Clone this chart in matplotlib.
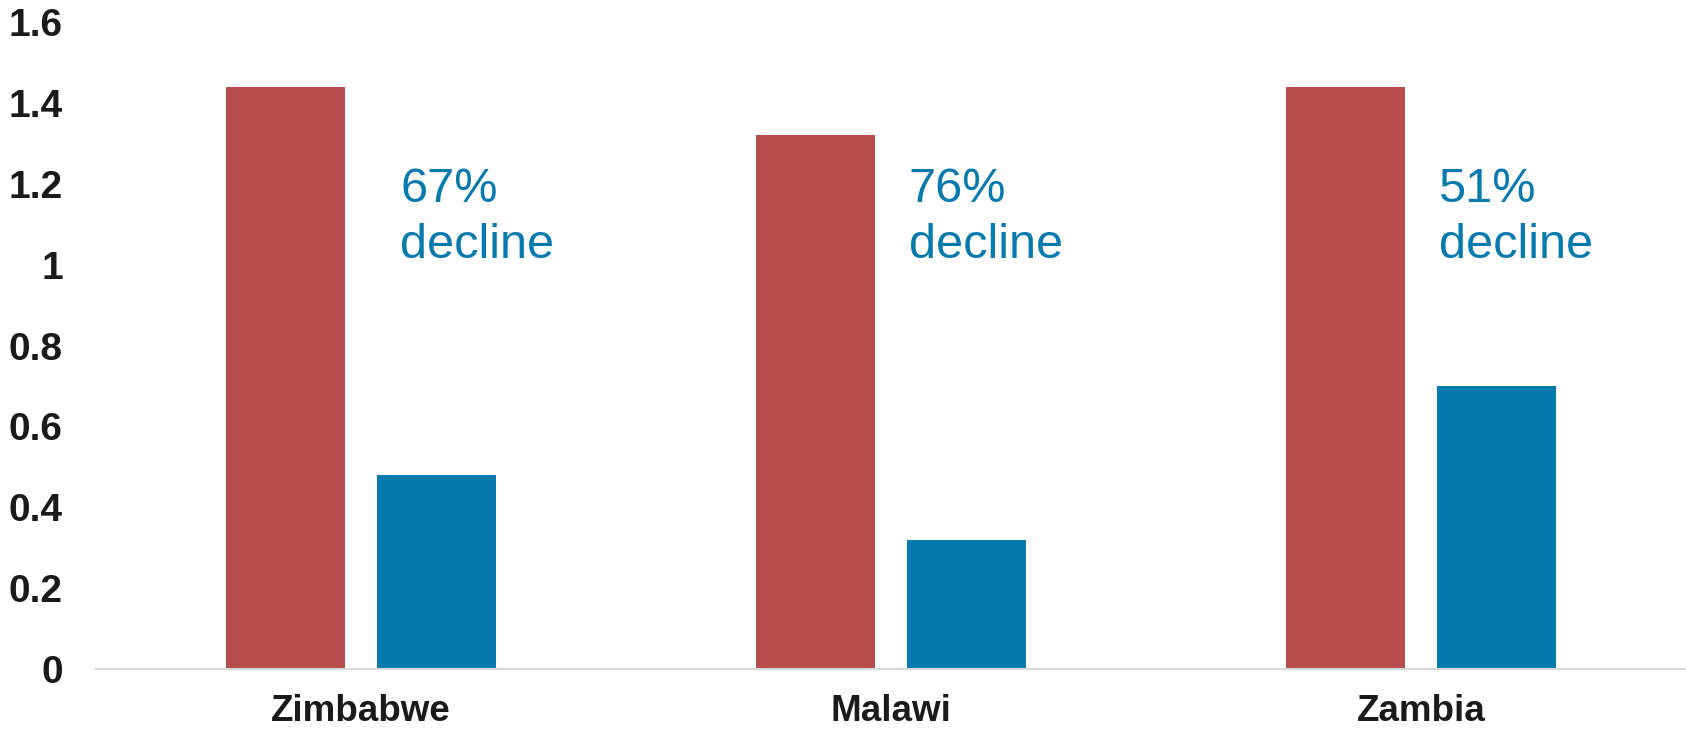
import numpy as np
import matplotlib
matplotlib.use("Agg")
import matplotlib.pyplot as plt

plt.rcParams['font.family'] = ['Liberation Sans', 'DejaVu Sans']

countries = ['Zimbabwe', 'Malawi', 'Zambia']
before = [1.44, 1.32, 1.44]
after = [0.48, 0.32, 0.70]
decline_labels = ['67%\ndecline', '76%\ndecline', '51%\ndecline']

red = '#B54D4D'
blue = '#077AAD'

fig = plt.figure(figsize=(16.86, 7.31), dpi=100)
ax = fig.add_axes([0.057, 0.0848, 0.943, 0.885])

x = np.arange(len(countries))
w = 0.225
ax.bar(x - 0.143, before, w, color=red)
ax.bar(x + 0.143, after, w, color=blue)

# annotation offsets relative to category centre
text_dx = [0.074, 0.033, 0.033]
for i, lab in enumerate(decline_labels):
    ax.text(x[i] + text_dx[i], 1.242, lab, color=blue, fontsize=35,
            ha='left', va='top', linespacing=1.32)

ax.set_xlim(-0.5, 2.5)
ax.set_ylim(0, 1.6)
ax.set_yticks([0, 0.2, 0.4, 0.6, 0.8, 1.0, 1.2, 1.4, 1.6])
ax.set_yticklabels(['0', '0.2', '0.4', '0.6', '0.8', '1', '1.2', '1.4', '1.6'])
ax.set_xticks(x)
ax.set_xticklabels(countries)

for lbl in ax.get_xticklabels():
    lbl.set_fontweight('bold')
    lbl.set_fontsize(26.5)
    lbl.set_color('#1a1a1a')
for lbl in ax.get_yticklabels():
    lbl.set_fontweight('bold')
    lbl.set_fontsize(28)
    lbl.set_color('#1a1a1a')

ax.tick_params(axis='y', length=0, pad=24)
ax.tick_params(axis='x', length=0, pad=18)

for s in ['top', 'right', 'left']:
    ax.spines[s].set_visible(False)
ax.spines['bottom'].set_color('#d9d9d9')
ax.spines['bottom'].set_linewidth(1.5)

fig.savefig('out.png', dpi=100)
